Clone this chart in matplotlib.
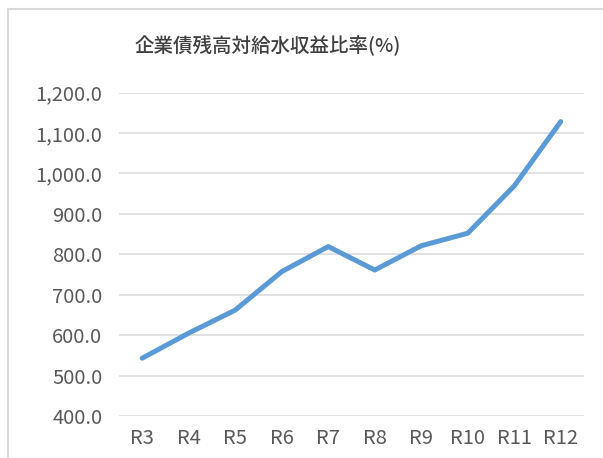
import matplotlib
matplotlib.use("Agg")
import matplotlib.pyplot as plt
from matplotlib.patches import Rectangle
from matplotlib.ticker import FuncFormatter

plt.rcParams['font.family'] = ['Noto Sans CJK JP', 'DejaVu Sans']

years = ['R3', 'R4', 'R5', 'R6', 'R7', 'R8', 'R9', 'R10', 'R11', 'R12']
ratio = [543, 605, 662, 757, 819, 761, 821, 852, 969, 1128]
yticks = [400, 500, 600, 700, 800, 900, 1000, 1100, 1200]

fig = plt.figure(figsize=(6.03, 4.58), dpi=100)
# outer chart frame (light gray)
fig.patches.append(Rectangle((8 / 603, -0.1), 1.2, (458 - 9) / 458 + 0.1,
                             transform=fig.transFigure, fill=False,
                             edgecolor='#d9d9d9', linewidth=1.5))

ax = fig.add_axes([119 / 603, 42 / 458, 465 / 603, 323.5 / 458])
x = range(len(years))
ax.plot(x, ratio, color='#5b9bd5', linewidth=3.6, solid_capstyle='round',
        solid_joinstyle='round', zorder=3)

ax.set_xlim(-0.5, len(years) - 0.5)
ax.set_ylim(400, 1200)
ax.set_yticks(yticks)
ax.yaxis.set_major_formatter(FuncFormatter(lambda v, p: f'{v:,.1f}'))
ax.set_xticks(list(x))
ax.set_xticklabels(years)
ax.grid(axis='y', color='#d9d9d9', linewidth=1.1)
ax.set_axisbelow(True)
for s in ax.spines.values():
    s.set_visible(False)
ax.tick_params(axis='both', length=0, labelsize=14.5, colors='#595959')
ax.tick_params(axis='y', pad=12)
ax.tick_params(axis='x', pad=9)

fig.text(268 / 603, 1 - 45 / 458, '企業債残高対給水収益比率(%)', ha='center', va='center',
         fontsize=14, color='#404040', fontweight='medium')

fig.savefig('out.png', dpi=100)
